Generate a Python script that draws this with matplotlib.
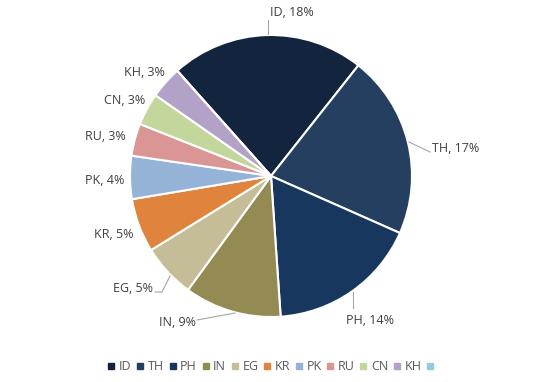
import matplotlib
matplotlib.use('Agg')
import matplotlib.pyplot as plt
from matplotlib.lines import Line2D

# data
countries = ['ID', 'TH', 'PH', 'IN', 'EG', 'KR', 'PK', 'RU', 'CN', 'KH', '']
shares = [18, 17, 14, 9, 5, 5, 4, 3, 3, 3, 0]
colors = ['#13243f', '#243f60', '#17375e', '#948a54', '#c4bd97', '#e0843d',
          '#95b3d7', '#d99694', '#c3d69b', '#b3a2c7', '#93cddd']

# label placement (pixel coords, y from top): text anchor point, ha, leader line
label_pos = {
    'ID': (270, 12, 'left', [(268, 34), (268, 20)]),
    'TH': (432, 148, 'left', [(409, 142), (430, 152)]),
    'PH': (346, 321, 'left', [(353, 292), (353, 308)]),
    'IN': (196, 323, 'right', [(235, 313), (197, 320)]),
    'EG': (153, 288, 'right', [(170, 276), (162, 292), (155, 292)]),
    'KR': (133, 234, 'right', None),
    'PK': (124, 180, 'right', None),
    'RU': (126, 137, 'right', None),
    'CN': (145, 100, 'right', None),
    'KH': (165, 72, 'right', None),
}

W, H = 543, 382
fig = plt.figure(figsize=(W / 100, H / 100), dpi=100)
ax = fig.add_axes([0, 0, 1, 1])
ax.set_aspect('equal')

cx, cy, r = 271, H - 176, 141
ax.pie(shares, colors=colors, center=(cx, cy), radius=r, startangle=90 + 41.7,
       counterclock=False, wedgeprops=dict(edgecolor='white', linewidth=1.5),
       frame=True)
ax.set_xlim(0, W)
ax.set_ylim(0, H)
ax.axis('off')

for name, val in zip(countries, shares):
    if not name:
        continue
    x, y, ha, leader = label_pos[name]
    ax.text(x, H - y, f'{name}, {round(val)}%', ha=ha, va='center',
            fontsize=9, color='#404040', family='Open Sans')
    if leader:
        xs = [p[0] for p in leader]
        ys = [H - p[1] for p in leader]
        ax.plot(xs, ys, color='#a6a6a6', lw=0.8)

handles = [Line2D([], [], marker='s', linestyle='', markersize=4.5,
                  markerfacecolor=c, markeredgecolor=c) for c in colors]
leg = ax.legend(handles, countries, loc='center', bbox_to_anchor=(273, H - 367),
                bbox_transform=ax.transData, ncol=len(countries), frameon=False,
                handlelength=0.5, handletextpad=0.35, columnspacing=0.45,
                prop={'family': 'Open Sans', 'size': 9})
for t in leg.get_texts():
    t.set_color('#595959')

fig.savefig('out.png', dpi=100)
